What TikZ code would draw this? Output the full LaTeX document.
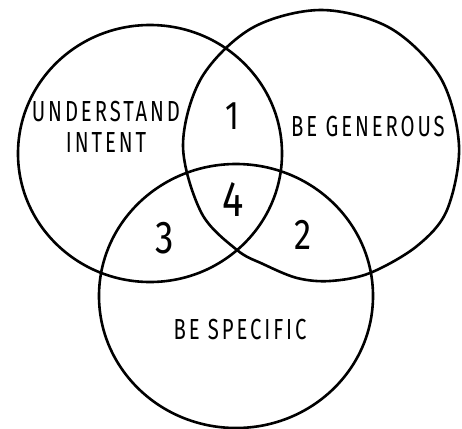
\documentclass[tikz,border=0pt]{standalone}
\usepackage{fontspec}
\newfontfamily\hand[FakeStretch=0.7,LetterSpace=10]{Fira Sans}
\newfontfamily\handnum[FakeStretch=0.8]{Fira Sans}
\begin{document}
\begin{tikzpicture}[x=1pt,y=-1pt,
  venn/.style={line width=2.6pt,line join=round},
  lbl/.style={font=\hand\fontsize{29}{31}\selectfont,align=center,inner sep=0pt},
  num/.style={inner sep=0pt}]
\useasboundingbox (0,0) rectangle (462,428);
% left shape
\draw[venn] (150,153.5) ellipse [x radius=132, y radius=128.5];
% right shape
\draw[venn] plot[smooth cycle,tension=0.55] coordinates{
 (321,10) (390,28) (440.5,77.75) (459,145.5) (447,210) (417,246) (370,273) (330,281)
 (297,278) (263,264) (237,250) (201.5,213) (183,145.5) (201.5,77.75) (252,28)};
% bottom shape
\draw[venn] (236,296) ellipse [x radius=137, y radius=132];
\node[lbl] (ui) at (106,127) {UNDERSTAND\\INTENT};
\node[lbl] (bg) at (368,127) {BE GENEROUS};
\node[lbl] (bs) at (240,330) {BE SPECIFIC};
\node[num,font=\handnum\fontsize{40}{40}\selectfont] (n1) at (232,116) {1};
\node[num,font=\handnum\fontsize{50}{50}\selectfont] (n4) at (233,200) {4};
\node[num,font=\handnum\fontsize{46}{46}\selectfont] (n3) at (165,238) {3};
\node[num,font=\handnum\fontsize{43}{43}\selectfont] (n2) at (303,235) {2};
\end{tikzpicture}
\end{document}
